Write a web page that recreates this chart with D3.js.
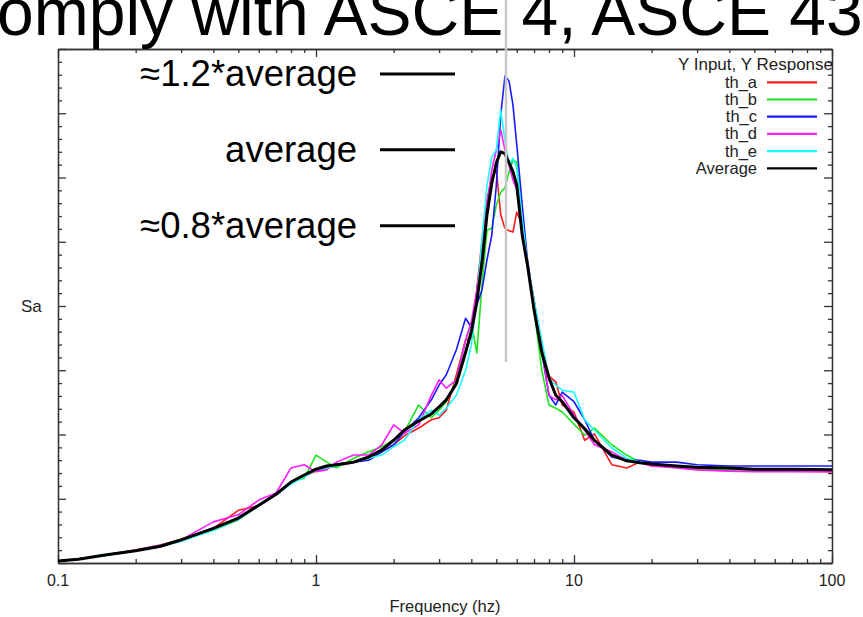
<!DOCTYPE html>
<html>
<head>
<meta charset="utf-8">
<script src="https://cdn.jsdelivr.net/npm/d3@7"></script>
<style>
  body { margin:0; background:#fff; }
  svg { display:block; font-family:"Liberation Sans", Arial, sans-serif; }
</style>
</head>
<body>
<div id="chart-area"></div>
<script>
/* Values (Sa in arbitrary units, frequency in hz) */
var freqs = [0.1,0.12,0.15,0.2,0.25,0.3,0.4,0.5,0.6,0.7,0.8,0.9,1.0,1.1,1.2,1.4,1.6,1.8,2.0,
  2.2,2.5,2.8,3.0,3.2,3.5,3.8,4.0,4.2,4.4,4.6,4.8,5.0,5.2,5.4,5.6,5.8,6.0,
  6.3,6.6,7.0,7.5,8.0,8.5,9.0,10,11,12,14,16,18,20,25,30,40,50,70,100];

var thA = [0.03,0.06,0.12,0.20,0.28,0.37,0.54,0.82,0.89,1.07,1.25,1.35,1.43,1.48,1.51,1.56,1.63,1.73,1.84,
  1.98,2.10,2.23,2.26,2.38,2.93,3.47,3.50,4.25,5.03,5.65,5.99,6.12,5.42,5.21,5.17,5.15,5.46,
  5.26,4.64,4.09,3.39,2.91,2.82,2.46,2.35,1.91,2.01,1.53,1.48,1.57,1.51,1.51,1.48,1.46,1.45,1.43,1.42];
var thB = [0.03,0.06,0.12,0.20,0.28,0.37,0.51,0.67,0.90,1.07,1.26,1.32,1.68,1.57,1.48,1.63,1.73,1.81,1.91,
  2.04,2.46,2.26,2.38,2.51,2.85,3.47,3.75,3.27,4.33,5.18,5.21,5.57,5.77,5.84,6.09,6.27,6.24,
  5.26,4.64,3.94,3.00,2.46,2.41,2.35,2.16,1.99,2.10,1.84,1.68,1.57,1.54,1.49,1.46,1.45,1.45,1.45,1.45];
var thC = [0.03,0.06,0.12,0.19,0.26,0.34,0.54,0.68,0.89,1.06,1.25,1.35,1.45,1.48,1.54,1.57,1.60,1.73,1.84,
  2.04,2.26,2.54,2.77,2.93,3.32,3.81,3.67,4.02,4.25,4.72,5.10,5.88,6.97,7.58,7.50,7.13,6.51,
  5.57,4.72,4.02,3.28,2.61,2.46,2.66,2.51,2.23,1.91,1.65,1.60,1.60,1.57,1.57,1.53,1.51,1.51,1.51,1.51];
var thD = [0.03,0.06,0.12,0.20,0.28,0.36,0.64,0.75,0.98,1.09,1.48,1.53,1.42,1.45,1.57,1.68,1.68,1.84,2.15,
  2.02,2.15,2.61,2.85,2.72,2.85,3.47,3.75,4.25,4.87,5.57,6.12,6.43,6.74,6.43,6.19,5.96,5.81,
  5.26,4.68,4.09,3.32,2.61,2.54,2.61,2.30,2.07,1.84,1.73,1.60,1.56,1.51,1.48,1.45,1.43,1.42,1.42,1.42];
var thE = [0.03,0.06,0.11,0.19,0.26,0.34,0.51,0.68,0.89,1.06,1.23,1.34,1.45,1.48,1.51,1.57,1.63,1.68,1.81,
  1.91,2.23,2.38,2.30,2.41,2.61,3.00,3.39,4.09,5.03,5.88,6.32,6.43,7.05,6.58,6.19,6.30,6.15,
  5.34,4.68,4.09,3.47,2.88,2.77,2.69,2.66,2.23,2.07,1.79,1.63,1.57,1.54,1.51,1.49,1.48,1.46,1.46,1.46];
var average = [0.03,0.06,0.12,0.19,0.26,0.36,0.54,0.70,0.90,1.07,1.26,1.37,1.46,1.51,1.53,1.57,1.65,1.76,1.91,
  2.07,2.21,2.32,2.43,2.54,2.79,3.28,3.60,4.06,4.68,5.42,5.91,6.23,6.40,6.37,6.23,6.09,5.88,
  5.10,4.64,3.94,3.28,2.88,2.61,2.51,2.26,2.09,1.91,1.68,1.59,1.56,1.54,1.51,1.49,1.48,1.46,1.46,1.45];

var seriesNames = ["th_a", "th_b", "th_c", "th_d", "th_e", "Average"];
var seriesValues = [thA, thB, thC, thD, thE, average];
var seriesColors = ["#ff1a1a", "#1ae61a", "#1a1aff", "#ff1aff", "#1affff", "#000000"];

var xTickLabels = [0.1, 1, 10, 100];
var refLevels = [7.61, 6.43, 5.25];
var refLabels = ["\u22481.2*average", "average", "\u22480.8*average"];
var peakFreq = 5.45;
var titleText = "omply with ASCE 4, ASCE 43";


/* Margins, width and height of the plot */
var margin = { left:58, right:31, top:49, bottom:54 };
var width = 863 - margin.left - margin.right;
var height = 617 - margin.top - margin.bottom;

var svg = d3.select("#chart-area").append("svg")
  .attr("width", 863)
  .attr("height", 617);

svg.append("rect").attr("width", 863).attr("height", 617).attr("fill", "#fff");

var g = svg.append("g")
  .attr("transform", "translate(" + margin.left + ", " + margin.top + ")");

/* Scales */
var x = d3.scaleLog().domain([0.1, 100]).range([0, width]);
var y = d3.scaleLinear().domain([0, 8]).range([height, 0]);

var xMinor = x.ticks().filter((d)=>{ return xTickLabels.indexOf(+d.toPrecision(3)) < 0; });
var yMajor = d3.range(0, 9);
var yMinor = d3.range(1, 40).map((i)=>{ return i * 0.2; }).filter((d)=>{ return Math.abs(d - Math.round(d)) > 0.01; });

/* Axes, ticks point inside on all four sides */
function styleAxis(sel) {
  sel.selectAll("path, line").attr("stroke", "#333").attr("stroke-width", 1.3);
}
function addAxis(axisFn, scale, values, size, transform) {
  g.append("g")
    .attr("transform", transform)
    .call(axisFn(scale).tickValues(values).tickSize(-size).tickSizeOuter(0).tickFormat(""))
    .call(styleAxis);
}
addAxis(d3.axisBottom, x, xMinor, 4, "translate(0," + height + ")");
addAxis(d3.axisBottom, x, xTickLabels, 8, "translate(0," + height + ")");
addAxis(d3.axisTop, x, xMinor, 4, "translate(0,0)");
addAxis(d3.axisTop, x, xTickLabels, 8, "translate(0,0)");
addAxis(d3.axisLeft, y, yMinor, 4, "translate(0,0)");
addAxis(d3.axisLeft, y, yMajor, 8, "translate(0,0)");
addAxis(d3.axisRight, y, yMinor, 4, "translate(" + width + ",0)");
addAxis(d3.axisRight, y, yMajor, 8, "translate(" + width + ",0)");

/* Tick labels and axis titles */
g.selectAll(".x-label")
  .data(xTickLabels)
  .enter()
  .append("text")
    .attr("class", "x-label")
    .attr("x", (d)=>{ return x(d); })
    .attr("y", height + 23)
    .attr("text-anchor", "middle")
    .attr("font-size", "16px")
    .attr("fill", "#222")
    .text((d)=>{ return d; });

g.append("text")
  .attr("x", width / 2)
  .attr("y", height + 49)
  .attr("text-anchor", "middle")
  .attr("font-size", "16.5px")
  .attr("fill", "#222")
  .text("Frequency (hz)");

svg.append("text")
  .attr("x", 21)
  .attr("y", 312)
  .attr("font-size", "17px")
  .attr("fill", "#222")
  .text("Sa");

/* Curves */
g.append("clipPath").attr("id", "plot-clip")
  .append("rect").attr("width", width).attr("height", height);

var line = d3.line()
  .x((d)=>{ return x(d[0]); })
  .y((d)=>{ return y(d[1]); });

var curves = g.append("g").attr("clip-path", "url(#plot-clip)");
seriesValues.forEach((vals, i)=>{
  curves.append("path")
    .datum(freqs.map((f, j)=>{ return [f, vals[j]]; }))
    .attr("fill", "none")
    .attr("stroke", seriesColors[i])
    .attr("stroke-width", i == 5 ? 3 : 1.6)
    .attr("stroke-linejoin", "round")
    .attr("d", line);
});

/* Legend */
var legend = g.append("g").attr("transform", "translate(" + width + ",0)");
legend.append("text")
  .attr("x", 1)
  .attr("y", 21)
  .attr("text-anchor", "end")
  .attr("font-size", "17px")
  .attr("fill", "#222")
  .text("Y Input, Y Response");
seriesNames.forEach((name, i)=>{
  var ly = 33.3 + i * 17.2;
  legend.append("text")
    .attr("x", -75)
    .attr("y", ly + 5.5)
    .attr("text-anchor", "end")
    .attr("font-size", "16.5px")
    .attr("fill", "#222")
    .text(name);
  legend.append("line")
    .attr("x1", -65).attr("x2", -15)
    .attr("y1", ly).attr("y2", ly)
    .attr("stroke", seriesColors[i])
    .attr("stroke-width", 2.2);
});

/* Annotations: reference levels */
refLevels.forEach((lv, i)=>{
  g.append("line")
    .attr("x1", 322).attr("x2", 397)
    .attr("y1", y(lv)).attr("y2", y(lv))
    .attr("stroke", "#000")
    .attr("stroke-width", 3);
  g.append("text")
    .attr("x", 299)
    .attr("y", y(lv) + 12)
    .attr("text-anchor", "end")
    .attr("font-size", "36.5px")
    .attr("fill", "#000")
    .text(refLabels[i]);
});

/* Grey marker at the peak frequency, and the slide title cut by the top edge */
svg.append("text")
  .attr("x", -3)
  .attr("y", 35)
  .attr("font-size", "66px")
  .attr("fill", "#000")
  .text(titleText);

svg.append("line")
  .attr("x1", margin.left + x(peakFreq)).attr("x2", margin.left + x(peakFreq))
  .attr("y1", 0).attr("y2", margin.top + y(3.13))
  .attr("stroke", "#c8c8c8")
  .attr("stroke-width", 2.5);
</script>
</body>
</html>
